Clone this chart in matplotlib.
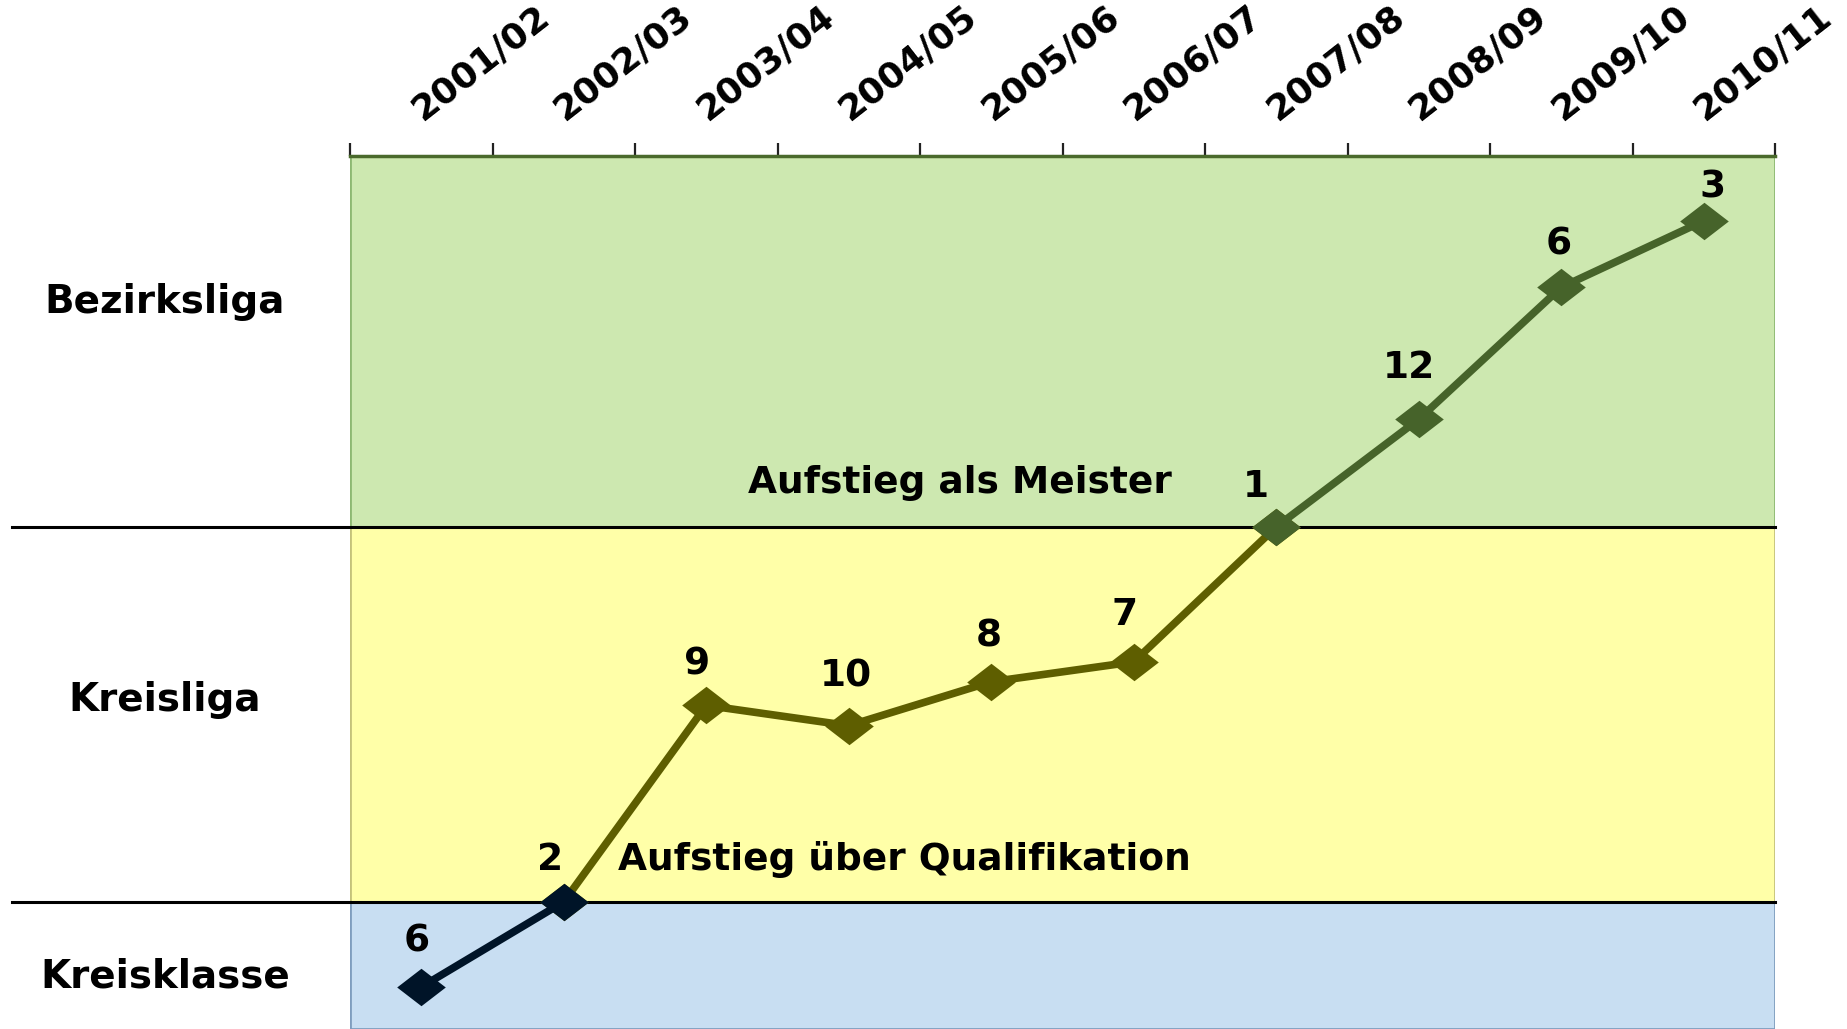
import numpy as np
from matplotlib import pyplot as plt
from matplotlib.transforms import ScaledTranslation

seasons = ["2001/02", "2002/03", "2003/04", "2004/05", "2005/06",
           "2006/07", "2007/08", "2008/09", "2009/10", "2010/11"]
placements = [6, 2, 9, 10, 8, 7, 1, 12, 6, 3]
# vertical position inside the league bands (0 = Kreisklasse/Kreisliga, 1 = Kreisliga/Bezirksliga)
level = [-0.227, 0.0, 0.524, 0.470, 0.587, 0.640, 1.0, 1.287, 1.639, 1.816]

league_names = ["Kreisklasse", "Kreisliga", "Bezirksliga"]
league_label_y = [-0.229, 0.509, 1.571]
# which seasons belong to each coloured part of the line
league_points = [[0, 1], [1, 2, 3, 4, 5, 6], [6, 7, 8, 9]]

band_colors = ["#C8DEF2", "#FFFFA8", "#CDE8B0"]
band_edges = ["#7F9DBE", "#C4C27A", "#8DB872"]
line_colors = ["#001428", "#5E5E00", "#46632A"]
line_z = [5, 3, 4]

# little shifts of the placement labels (pixels), as in the original
label_dx = [-5, -14, -9, -3, -2, -9, -20, -10, -3, 9]
label_dy = [35, 32, 31, 39, 35, 37, 30, 41, 33, 23]

plt.rcParams["font.family"] = "DejaVu Sans"
plt.rcParams["font.weight"] = "bold"

fig = plt.figure(figsize=(18.47, 10.29), dpi=100)
ax = fig.add_axes([350 / 1847, 0, 1425 / 1847, 1 - 156 / 1029])

ylo, yhi = -0.339, 1.989
ax.set_xlim(-0.5, 9.5)
ax.set_ylim(ylo, yhi)

bounds = [(ylo, 0), (0, 1), (1, yhi)]
for (lo, hi), fc, ec in zip(bounds, band_colors, band_edges):
    ax.axhspan(lo, hi, facecolor=fc, edgecolor=ec, linewidth=2, zorder=0)

# boundaries between the leagues, reaching out to the left labels
for yb in [0, 1]:
    ax.plot([-0.237, 1], [yb, yb], color="black", lw=2.2,
            transform=ax.get_yaxis_transform(), clip_on=False, zorder=1)

diamond = [(-1, 0), (0, 0.77), (1, 0), (0, -0.77), (-1, 0)]
x = np.arange(len(seasons))
lv = np.array(level)
for idx, col, z in zip(league_points, line_colors, line_z):
    ax.plot(x[idx], lv[idx], color=col, lw=5.5, marker=diamond,
            markersize=35, markeredgewidth=0, zorder=z)

for i, p in enumerate(placements):
    ax.annotate(str(p), (x[i], lv[i]), xytext=(label_dx[i], label_dy[i]),
                textcoords="offset pixels", ha="center", va="baseline",
                fontsize=27, fontweight="bold", zorder=6)

for name, yl in zip(league_names, league_label_y):
    ax.text(-0.130, yl, name, transform=ax.get_yaxis_transform(),
            ha="center", va="baseline", fontsize=28, fontweight="bold")

ax.text(3.78, 1.091, "Aufstieg als Meister", ha="center", va="baseline",
        fontsize=27, fontweight="bold")
ax.text(3.39, 0.085, "Aufstieg über Qualifikation", ha="center",
        va="baseline", fontsize=27, fontweight="bold")

# season labels on top, tick marks between the seasons
ax.xaxis.tick_top()
ax.set_xticks(np.arange(-0.5, 10, 1))
ax.set_xticklabels([])
ax.set_xticks(x, minor=True)
ax.set_xticklabels(seasons, minor=True, rotation=38, ha="left", va="bottom",
                   rotation_mode="anchor", fontsize=26, fontweight="bold")
ax.tick_params(axis="x", which="major", top=True, bottom=False, length=9.5,
               width=1.6, color="#222222", direction="out")
ax.tick_params(axis="x", which="minor", top=True, bottom=False, length=0,
               pad=21, labeltop=True, labelbottom=False)
shift = ScaledTranslation(5 / 100, 0, fig.dpi_scale_trans)
for lab in ax.get_xticklabels(minor=True):
    lab.set_transform(lab.get_transform() + shift)
ax.set_yticks([])

for side in ["left", "right", "bottom"]:
    ax.spines[side].set_visible(False)
ax.spines["top"].set_color("#4A6A2C")
ax.spines["top"].set_linewidth(2.5)

fig.savefig("out.png", dpi=100)
